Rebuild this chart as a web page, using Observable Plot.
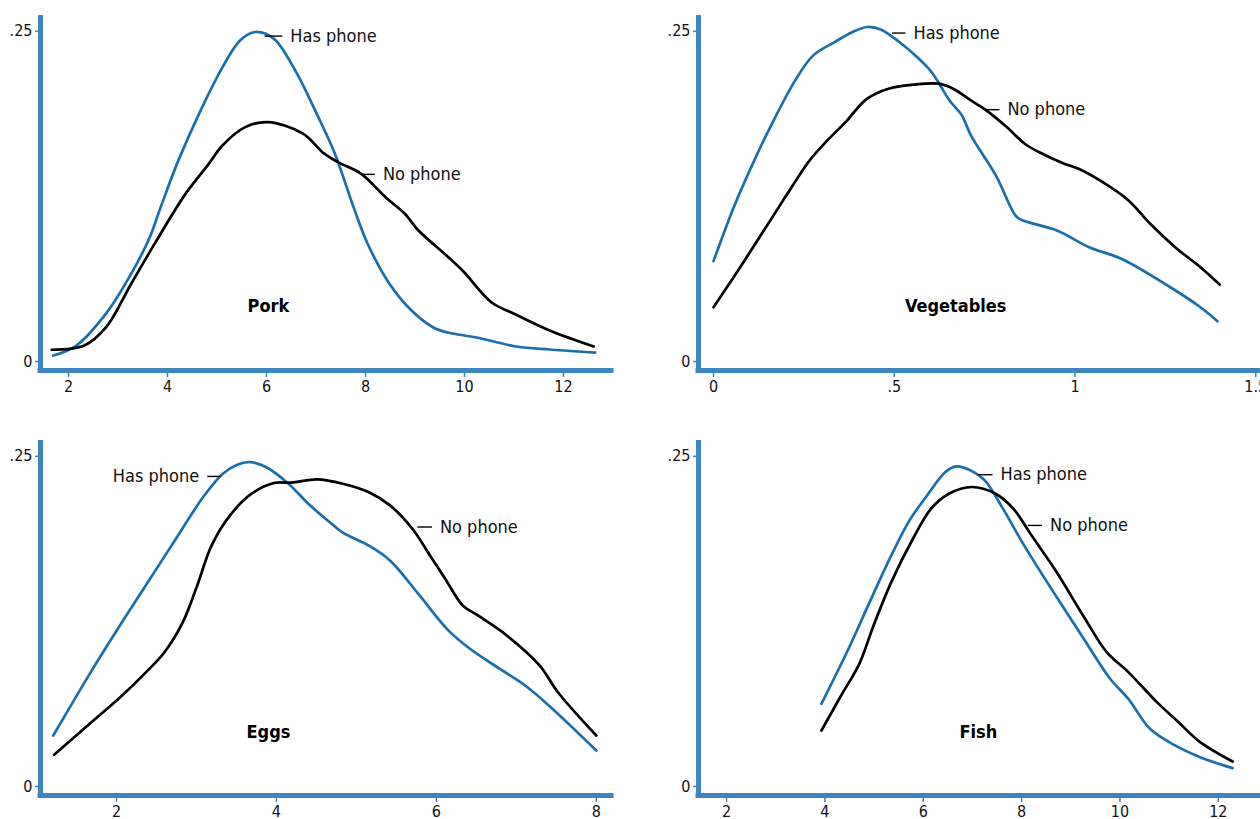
<!DOCTYPE html>
<html>
<head>
<meta charset="utf-8">
<script src="https://cdn.jsdelivr.net/npm/d3@7"></script>
<script src="https://cdn.jsdelivr.net/npm/@observablehq/plot@0.6"></script>
<style>
  html, body { margin: 0; padding: 0; background: #fff; overflow: hidden; }
  #grid { position: relative; width: 1260px; height: 819px; overflow: hidden; }
  .panel { position: absolute; }
</style>
</head>
<body>
<div id="grid"></div>
<script>
// Kernel density estimates of food consumption, by phone ownership

// Pork
const porkHasX = [1.69, 2.16, 2.76, 3.27, 3.64, 3.86, 4.22, 4.67, 5.11, 5.47, 5.77, 6.14, 6.58, 7.01, 7.38, 7.76, 8.04, 8.48, 8.93, 9.37, 9.66, 10.24, 11.05, 11.72, 12.64];
const porkHasY = [0.0045, 0.0121, 0.0364, 0.0667, 0.0939, 0.1167, 0.1523, 0.1902, 0.2227, 0.2432, 0.2495, 0.2447, 0.2205, 0.1879, 0.1576, 0.1167, 0.0894, 0.0591, 0.0386, 0.0258, 0.0220, 0.0182, 0.0114, 0.0091, 0.0068];
const porkNoX = [1.66, 2.32, 2.76, 3.27, 3.78, 4.37, 4.81, 5.11, 5.56, 6.02, 6.73, 7.16, 7.45, 7.90, 8.41, 8.79, 9.07, 9.59, 9.96, 10.55, 10.99, 11.72, 12.61];
const porkNoY = [0.0089, 0.0121, 0.0260, 0.0591, 0.0917, 0.1273, 0.1485, 0.1636, 0.1773, 0.1813, 0.1727, 0.1576, 0.1508, 0.1424, 0.1242, 0.1121, 0.0992, 0.0818, 0.0689, 0.0447, 0.0364, 0.0235, 0.0114];

// Vegetables
const vegHasX = [0, 0.058, 0.117, 0.157, 0.226, 0.276, 0.335, 0.385, 0.425, 0.464, 0.514, 0.563, 0.603, 0.653, 0.687, 0.712, 0.781, 0.835, 0.851, 0.950, 1.039, 1.128, 1.248, 1.347, 1.394];
const vegHasY = [0.0760, 0.1182, 0.1548, 0.1775, 0.2129, 0.2318, 0.2419, 0.2495, 0.2533, 0.2513, 0.2419, 0.2305, 0.2192, 0.1977, 0.1864, 0.1712, 0.1409, 0.1106, 0.1073, 0.0992, 0.0866, 0.0778, 0.0589, 0.0411, 0.0305];
const vegNoX = [0, 0.077, 0.157, 0.216, 0.266, 0.315, 0.370, 0.385, 0.425, 0.484, 0.553, 0.623, 0.663, 0.712, 0.752, 0.811, 0.861, 0.900, 0.970, 1.010, 1.069, 1.148, 1.208, 1.277, 1.347, 1.40];
const vegNoY = [0.0411, 0.0727, 0.1068, 0.1320, 0.1523, 0.1674, 0.1826, 0.1876, 0.1990, 0.2066, 0.2096, 0.2104, 0.2066, 0.1977, 0.1907, 0.1775, 0.1649, 0.1586, 0.1498, 0.1460, 0.1371, 0.1220, 0.1043, 0.0866, 0.0714, 0.0583];

// Eggs
const eggsHasX = [1.21, 1.73, 2.23, 2.69, 3.10, 3.33, 3.51, 3.67, 3.87, 4.15, 4.42, 4.69, 4.83, 5.15, 5.42, 5.79, 6.15, 6.42, 6.79, 7.11, 7.43, 7.74, 8.0];
const eggsHasY = [0.0386, 0.0917, 0.1396, 0.1826, 0.2205, 0.2369, 0.2437, 0.2457, 0.2419, 0.2293, 0.2129, 0.1990, 0.1922, 0.1826, 0.1712, 0.1447, 0.1182, 0.1043, 0.0892, 0.0765, 0.0601, 0.0424, 0.0273];
const eggsNoX = [1.22, 1.64, 2.05, 2.37, 2.60, 2.83, 3.01, 3.19, 3.42, 3.69, 3.97, 4.19, 4.51, 4.83, 5.15, 5.42, 5.70, 5.92, 6.11, 6.33, 6.52, 6.88, 7.29, 7.52, 8.0];
const eggsNoY = [0.0240, 0.0462, 0.0677, 0.0866, 0.1017, 0.1245, 0.1523, 0.1826, 0.2053, 0.2217, 0.2298, 0.2301, 0.2326, 0.2293, 0.2230, 0.2129, 0.1952, 0.1750, 0.1573, 0.1371, 0.1295, 0.1144, 0.0917, 0.0714, 0.0386];

// Fish
const fishHasX = [3.93, 4.48, 4.91, 5.35, 5.72, 6.08, 6.45, 6.67, 6.96, 7.25, 7.62, 8.05, 8.56, 9.22, 9.80, 10.17, 10.61, 11.12, 11.63, 12.29];
const fishHasY = [0.0626, 0.1043, 0.1396, 0.1750, 0.2015, 0.2205, 0.2381, 0.2424, 0.2394, 0.2318, 0.2104, 0.1826, 0.1523, 0.1144, 0.0816, 0.0664, 0.0437, 0.0311, 0.0222, 0.0139];
const fishNoX = [3.93, 4.33, 4.70, 4.99, 5.35, 5.79, 6.16, 6.52, 6.99, 7.47, 7.83, 8.20, 8.71, 9.29, 9.73, 10.17, 10.75, 11.19, 11.63, 12.29];
const fishNoY = [0.0424, 0.0689, 0.0929, 0.1220, 0.1548, 0.1876, 0.2104, 0.2217, 0.2268, 0.2217, 0.2104, 0.1902, 0.1624, 0.1270, 0.1017, 0.0866, 0.0639, 0.0487, 0.0336, 0.0189];

// Axis ticks
const yTicks = [0, 0.25];
const porkTicks = [2, 4, 6, 8, 10, 12];
const vegTicks = [0, 0.5, 1, 1.5];
const eggsTicks = [2, 4, 6, 8];
const fishTicks = [2, 4, 6, 8, 10, 12];

// Series names and curve labels (leader from x1 to x2 at height y)
const seriesNames = ["Has phone", "No phone"];
const porkLabels = [
  {text: "Has phone", x1: 5.96, x2: 6.32, y: 0.2464, side: "right"},
  {text: "No phone", x1: 7.90, x2: 8.19, y: 0.1417, side: "right"}
];
const vegLabels = [
  {text: "Has phone", x1: 0.494, x2: 0.531, y: 0.2487, side: "right"},
  {text: "No phone", x1: 0.752, x2: 0.791, y: 0.1907, side: "right"}
];
const eggsLabels = [
  {text: "Has phone", x1: 3.135, x2: 3.304, y: 0.2348, side: "left"},
  {text: "No phone", x1: 5.763, x2: 5.945, y: 0.1965, side: "right"}
];
const fishLabels = [
  {text: "Has phone", x1: 7.104, x2: 7.409, y: 0.2361, side: "right"},
  {text: "No phone", x1: 8.124, x2: 8.415, y: 0.1977, side: "right"}
];

const curveColor = "#1a6eab";
const axisColor = "#3d85bf";
const fontFamily = '"DejaVu Sans Condensed", "DejaVu Sans", sans-serif';
const yDomain = [-0.0068, 0.262];

const fmtNum = d => d === 0 ? "0" : String(d).replace(/^0\./, ".");

function rows(xs, ys, series) {
  return xs.map((x, i) => ({x, y: ys[i], series}));
}

function panel({title, titleX, titleY, xDomain, xTicks, hasX, hasY, noX, noY, labels, left, top}) {
  const data = [...rows(hasX, hasY, seriesNames[0]), ...rows(noX, noY, seriesNames[1])];
  const chart = Plot.plot({
    width: 630,
    height: 405,
    marginLeft: 40,
    marginRight: 19,
    marginTop: 15,
    marginBottom: 35,
    style: {fontFamily, fontSize: "16px", fontStretch: "condensed", background: "#fff", color: "#111"},
    x: {domain: xDomain},
    y: {domain: yDomain},
    marks: [
      Plot.ruleX([xDomain[0]], {y1: yDomain[0], y2: yDomain[1], stroke: axisColor, strokeWidth: 5}),
      Plot.ruleY([yDomain[0]], {x1: xDomain[0], x2: xDomain[1], stroke: axisColor, strokeWidth: 5, strokeLinecap: "square"}),
      Plot.axisY(yTicks, {anchor: "left", tickSize: 5, tickPadding: 3, stroke: axisColor, strokeWidth: 1.5, fill: "#111", fontSize: 16, tickFormat: fmtNum, label: null}),
      Plot.axisX(xTicks, {anchor: "bottom", tickSize: 7, tickPadding: 3, stroke: axisColor, strokeWidth: 1.5, fill: "#111", fontSize: 16, tickFormat: fmtNum, label: null}),
      Plot.line(data, {x: "x", y: "y", z: "series", stroke: d => d.series === seriesNames[0] ? curveColor : "#000", strokeWidth: 2.7, curve: "catmull-rom"}),
      Plot.link(labels, {x1: "x1", x2: "x2", y1: "y", y2: "y", stroke: "#000", strokeWidth: 1.4}),
      Plot.text(labels.filter(d => d.side === "right"), {x: "x2", y: "y", text: "text", textAnchor: "start", dx: 8, fontSize: 18, fill: "#111"}),
      Plot.text(labels.filter(d => d.side === "left"), {x: "x1", y: "y", text: "text", textAnchor: "end", dx: -8, fontSize: 18, fill: "#111"}),
      Plot.text([title], {x: titleX, y: titleY, text: d => d, fontSize: 18, fontWeight: "bold", fill: "#000"})
    ]
  });
  chart.classList.add("panel");
  chart.style.left = left + "px";
  chart.style.top = top + "px";
  document.getElementById("grid").appendChild(chart);
}

panel({title: "Pork", titleX: 6.04, titleY: 0.0417, xDomain: [1.434, 12.97], xTicks: porkTicks,
  hasX: porkHasX, hasY: porkHasY, noX: porkNoX, noY: porkNoY, labels: porkLabels, left: 0, top: 0});
panel({title: "Vegetables", titleX: 0.670, titleY: 0.0417, xDomain: [-0.0415, 1.538], xTicks: vegTicks,
  hasX: vegHasX, hasY: vegHasY, noX: vegNoX, noY: vegNoY, labels: vegLabels, left: 658, top: 0});
panel({title: "Eggs", titleX: 3.90, titleY: 0.0411, xDomain: [1.05, 8.19], xTicks: eggsTicks,
  hasX: eggsHasX, hasY: eggsHasY, noX: eggsNoX, noY: eggsNoY, labels: eggsLabels, left: 0, top: 425});
panel({title: "Fish", titleX: 7.12, titleY: 0.0411, xDomain: [1.43, 13.04], xTicks: fishTicks,
  hasX: fishHasX, hasY: fishHasY, noX: fishNoX, noY: fishNoY, labels: fishLabels, left: 658, top: 425});
</script>
</body>
</html>
